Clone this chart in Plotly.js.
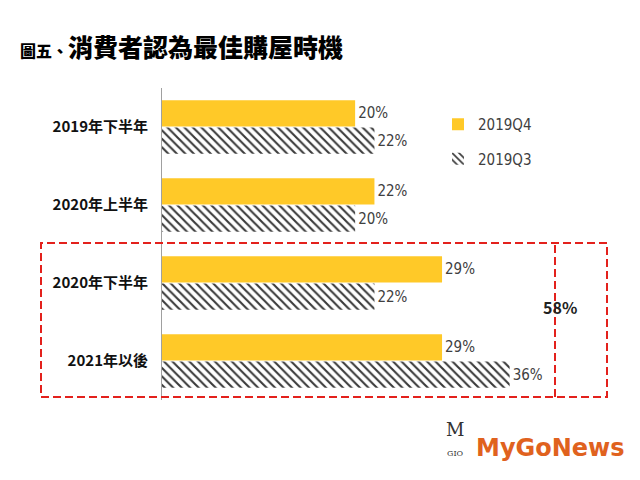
<!DOCTYPE html>
<html><head><meta charset="utf-8">
<script src="https://cdn.plot.ly/plotly-3.0.1.min.js"></script>
<style>body{margin:0;background:#fff}#c{width:640px;height:480px}</style>
</head><body><div id="c"></div>
<script>
const categories = ['2019年下半年','2020年上半年','2020年下半年','2021年以後'];
const q4Values = [20, 22, 29, 29];
const q3Values = [22, 20, 22, 36];
const seriesNames = ['2019Q4','2019Q3'];
const totalLabel = '58%';

const narrow = 'DejaVu Sans Condensed, Liberation Sans Narrow, Noto Sans, sans-serif';
const labelFont = {family:narrow, size:15, color:'#404040'};
const traces = [
  {type:'bar', orientation:'h', name:seriesNames[0], y:categories, x:q4Values,
   marker:{color:'#FFC928'}, text:q4Values.map(v=>v+'%'), textposition:'outside',
   textfont:labelFont, cliponaxis:false, legendgroup:'a', hoverinfo:'skip'},
  {type:'bar', orientation:'h', name:seriesNames[1], y:categories, x:q3Values,
   marker:{color:'#ffffff', pattern:{shape:'\\', fgcolor:'#3a3a3a', bgcolor:'#ffffff', size:6, solidity:0.35}},
   text:q3Values.map(v=>v+'%'), textposition:'outside',
   textfont:labelFont, cliponaxis:false, legendgroup:'b', hoverinfo:'skip'}
];
const red = '#E3211C';
const layout = {
  width:640, height:480, paper_bgcolor:'#fff', plot_bgcolor:'#fff',
  margin:{l:162, r:0, t:88, b:80},
  barmode:'group', bargap:0.3, bargroupgap:0.04,
  title:{text:'<span style="font-size:16px">圖五、</span>消費者認為最佳購屋時機',
    x:20/640, xanchor:'left', xref:'container', y:1-48/480, yanchor:'middle', yref:'container',
    font:{family:'Noto Sans CJK TC, sans-serif', size:25, color:'#000', weight:900}},
  xaxis:{range:[0,49.5], visible:false, fixedrange:true},
  yaxis:{autorange:'reversed', showline:true, linecolor:'#a0a0a0', linewidth:1, ticks:'',
    showgrid:false, zeroline:false, ticklabelstandoff:10,
    tickfont:{family:'Noto Sans CJK TC, sans-serif', size:15, color:'#111', weight:'bold'}},
  showlegend:true,
  legend:{x:(438-162)/478, y:(400-108)/312, xanchor:'left', yanchor:'top',
    traceorder:'grouped', tracegroupgap:12,
    font:{family:narrow, size:15, color:'#404040'},
    itemwidth:30, bgcolor:'rgba(0,0,0,0)'},
  shapes:[
    {type:'rect', xref:'paper', yref:'paper', x0:(41-162)/478, x1:(607-162)/478,
     y0:(400-397)/312, y1:(400-243)/312, line:{color:red, width:2, dash:'8px,4px'}},
    {type:'line', xref:'paper', yref:'paper', x0:(555-162)/478, x1:(555-162)/478,
     y0:(400-397)/312, y1:(400-243)/312, line:{color:red, width:2, dash:'8px,4px'}}
  ],
  annotations:[
    {text:totalLabel, xref:'paper', yref:'paper', x:(579-162)/478, y:(400-321)/312,
     showarrow:false, font:{family:'Noto Sans CJK TC, sans-serif', size:16, color:'#222', weight:'bold'}},
    {text:'<b>MyGoNews</b>', xref:'paper', yref:'paper', x:(627-162)/478, y:(400-448)/312,
     xanchor:'right', yanchor:'middle', showarrow:false,
     font:{family:'DejaVu Sans, sans-serif', size:24, color:'#E0621E'}},
    {text:'M', xref:'paper', yref:'paper', x:(455-162)/478, y:(400-442)/312,
     showarrow:false, font:{family:'DejaVu Serif, serif', size:18, color:'#333'}},
    {text:'GIO', xref:'paper', yref:'paper', x:(455-162)/478, y:(400-460)/312,
     showarrow:false, font:{family:'DejaVu Serif, serif', size:8, color:'#333'}}
  ]
};
Plotly.newPlot('c', traces, layout, {displayModeBar:false, staticPlot:true});
</script></body></html>
